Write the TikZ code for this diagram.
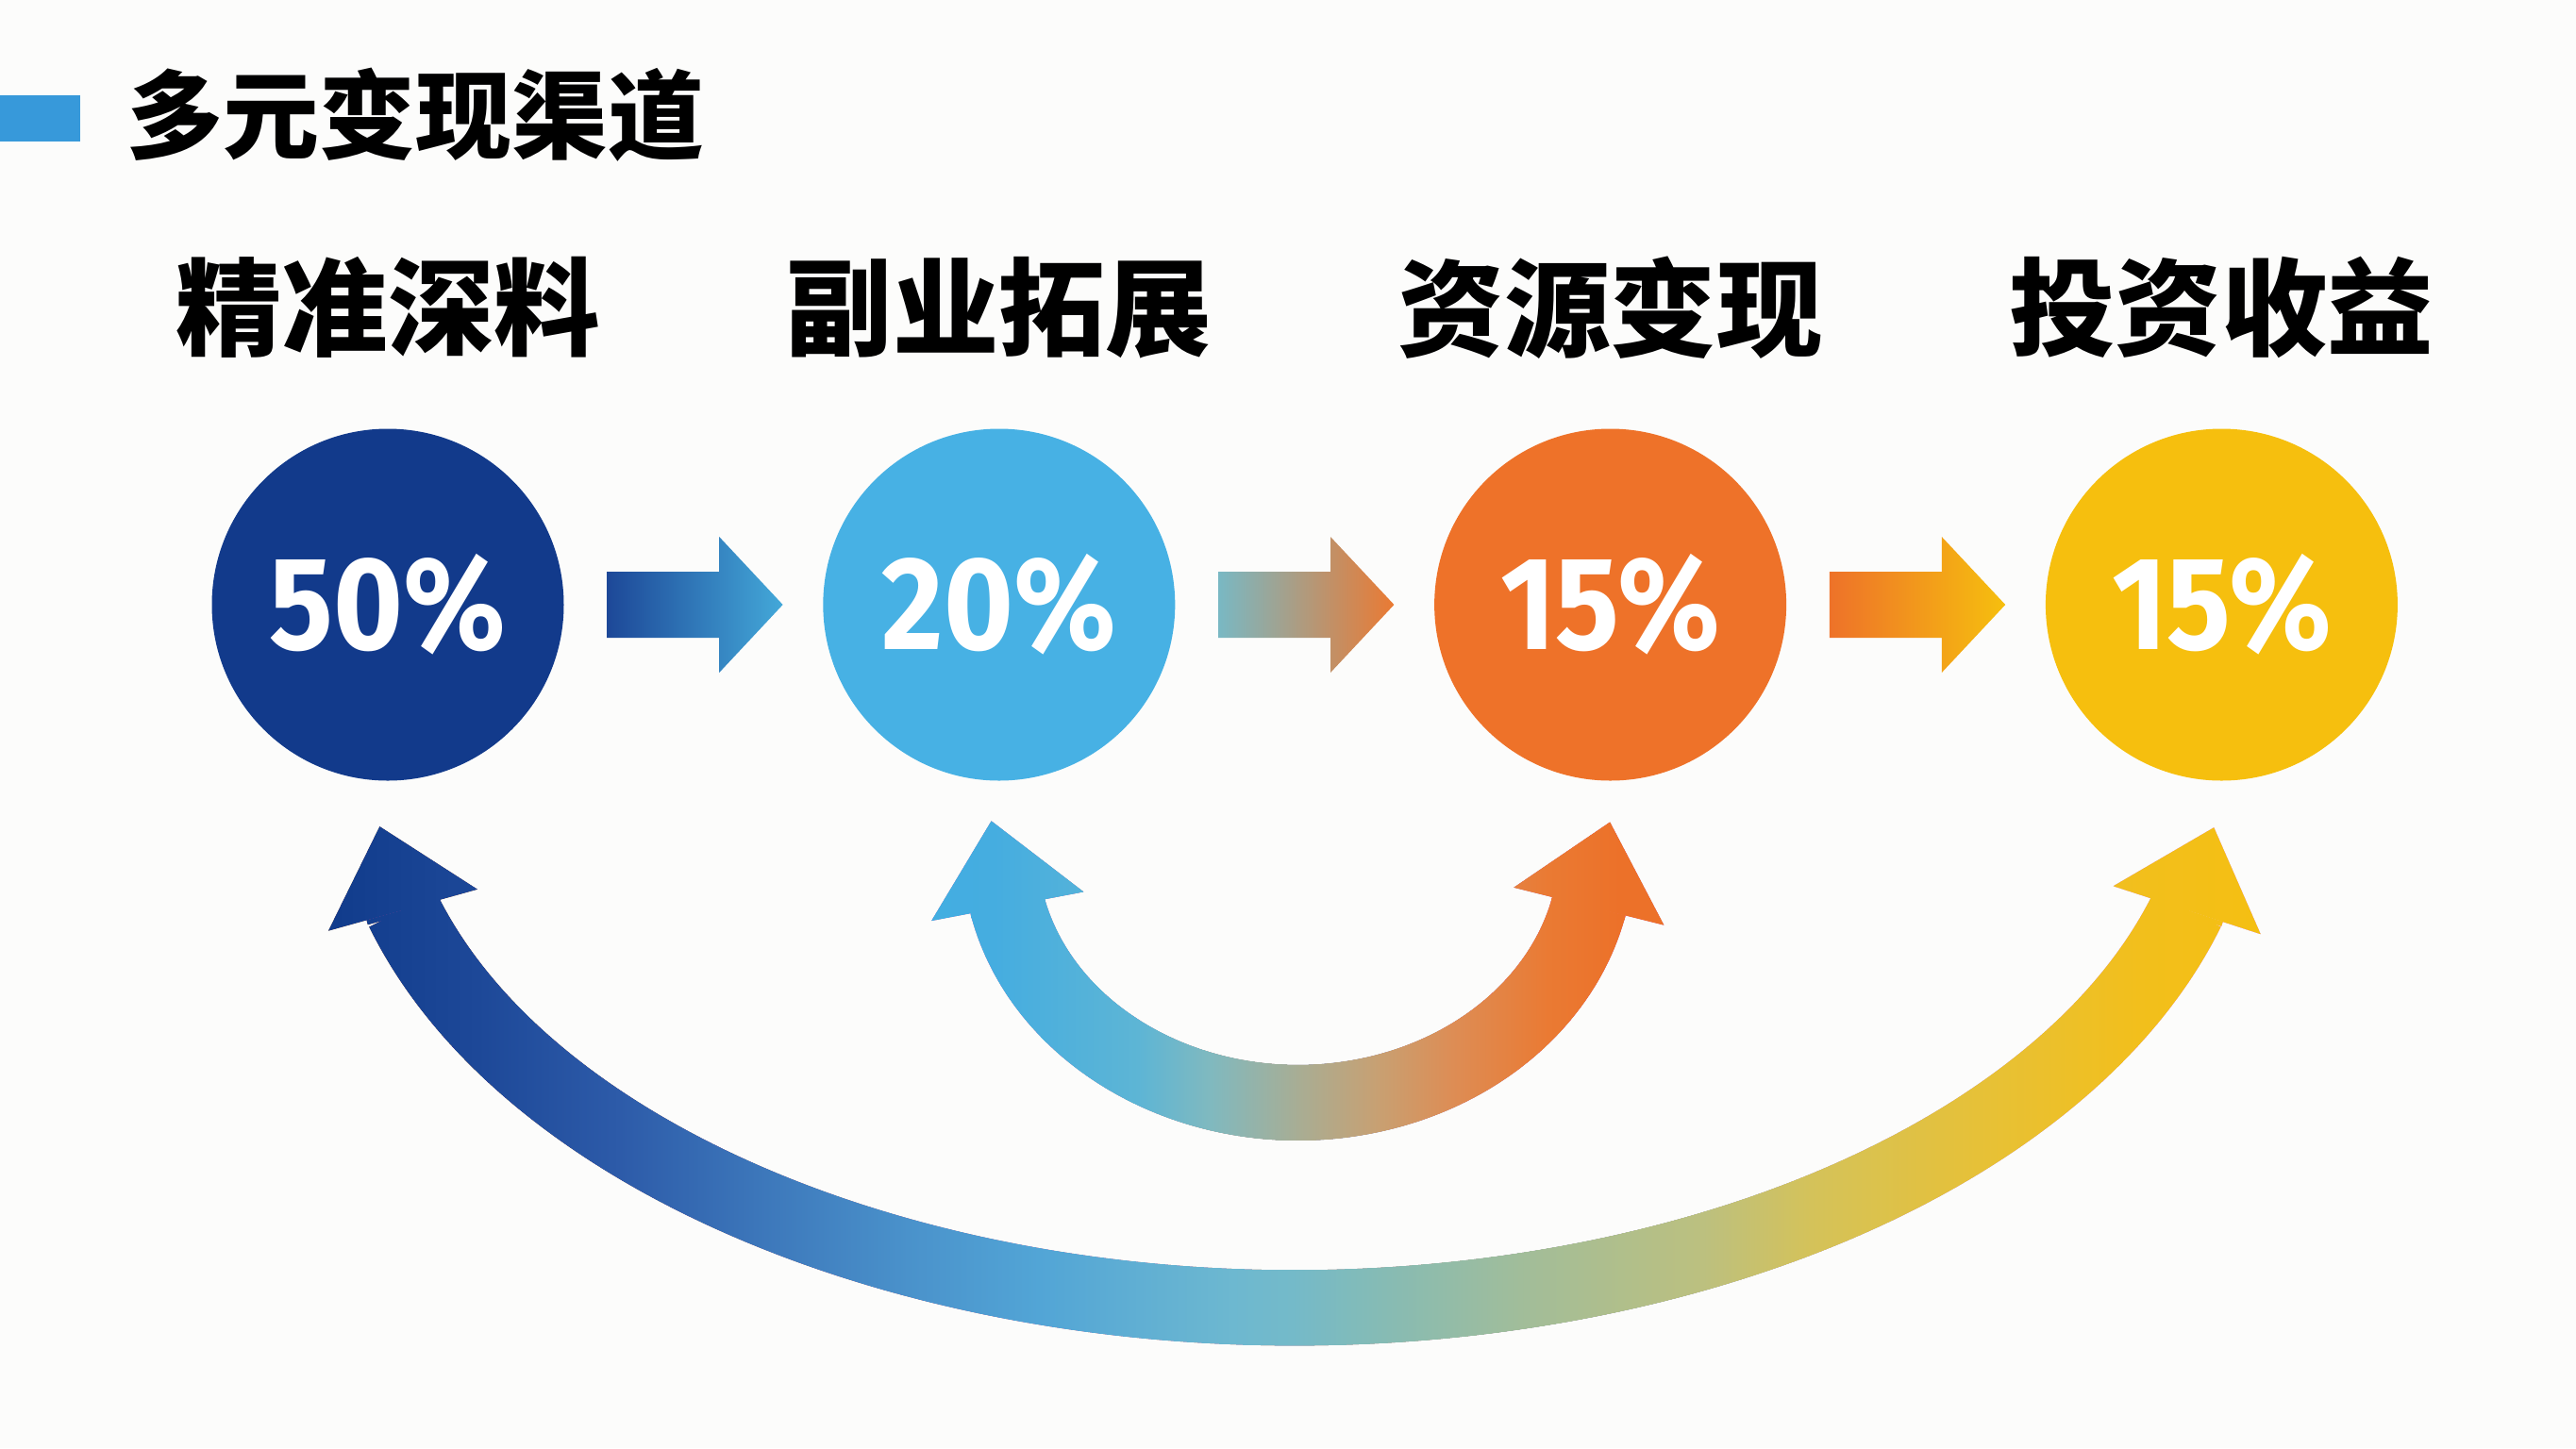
\documentclass[tikz,border=0pt]{standalone}
\usepackage{fontspec}
\setmainfont{Noto Sans}
\newfontfamily\cjk{Noto Sans CJK SC}
\newfontfamily\pctfont{Fira Sans}[FakeStretch=0.9]
\usetikzlibrary{arrows.meta,positioning,calc}
\definecolor{paper}{HTML}{FCFCFB}
\definecolor{bar}{HTML}{3799DA}
\definecolor{navy}{HTML}{123A8B}
\definecolor{sky}{HTML}{47B1E4}
\definecolor{tang}{HTML}{EE7229}
\definecolor{gold}{HTML}{F6BF0E}
% outer loop colours, left to right
\definecolor{lp0}{HTML}{0F3A8A}
\definecolor{lp1}{HTML}{1D4898}
\definecolor{lp2}{HTML}{2D5BA9}
\definecolor{lp3}{HTML}{3D78BB}
\definecolor{lp4}{HTML}{4A92CB}
\definecolor{lp5}{HTML}{52A5D6}
\definecolor{lp6}{HTML}{6DB8D0}
\definecolor{lp7}{HTML}{74BAC9}
\definecolor{lp8}{HTML}{85BBB5}
\definecolor{lp9}{HTML}{A2BD99}
\definecolor{lp10}{HTML}{BCC07F}
\definecolor{lp11}{HTML}{D4C25A}
\definecolor{lp12}{HTML}{E6C138}
\definecolor{lp13}{HTML}{F2BF1C}
\definecolor{lp14}{HTML}{F5BF10}
% inner loop colours
\definecolor{sp0}{HTML}{42AEE2}
\definecolor{sp1}{HTML}{45ADE0}
\definecolor{sp2}{HTML}{5DB5D5}
\definecolor{sp3}{HTML}{80B9BF}
\definecolor{sp4}{HTML}{A9AD93}
\definecolor{sp5}{HTML}{C8A072}
\definecolor{sp6}{HTML}{DD8D55}
\definecolor{sp7}{HTML}{EA7A33}
\definecolor{sp8}{HTML}{EC7129}
\pgfdeclarehorizontalshading{bigloop}{100bp}{color(0bp)=(lp0); color(25bp)=(lp0); color(29.2bp)=(lp1); color(32.8bp)=(lp2); color(36.5bp)=(lp3); color(40.1bp)=(lp4); color(43.4bp)=(lp5); color(48.3bp)=(lp6); color(49.8bp)=(lp7); color(52bp)=(lp8); color(55.7bp)=(lp9); color(60.2bp)=(lp10); color(62.9bp)=(lp11); color(67.1bp)=(lp12); color(71.2bp)=(lp13); color(75bp)=(lp14); color(100bp)=(lp14)}
\pgfdeclarehorizontalshading{smallloop}{100bp}{color(0bp)=(sp0); color(25bp)=(sp0); color(30.5bp)=(sp1); color(39.7bp)=(sp2); color(44.3bp)=(sp3); color(50bp)=(sp4); color(55bp)=(sp5); color(59.7bp)=(sp6); color(65.8bp)=(sp7); color(70.4bp)=(sp8); color(100bp)=(sp8)}
\tikzset{
  headline/.style={font=\cjk\bfseries\fontsize{29}{29}\selectfont,inner sep=0pt},
  lbl/.style={font=\cjk\bfseries\fontsize{32}{32}\selectfont,inner sep=0pt},
  pct/.style={circle,minimum size=37.3mm,inner sep=0pt,text=white,font=\pctfont\bfseries\fontsize{40}{40}\selectfont},
  fwd1/.style={left color=lp1,right color=sky!95!black},
  fwd2/.style={left color=sp3!80!sp2,middle color=sp4!60!sp5,right color=sp7},
  fwd3/.style={left color=tang,middle color=tang!50!gold,right color=gold},
  arcband/.style={draw=black,line width=8mm},
  headtip/.style={draw=black,line width=8mm,shorten >=-9.2mm,
    -{Triangle[width=16.4mm 0 0,length=9.2mm 0 0,line width=0pt]}}
}
\begin{document}
\begin{tikzpicture}[node distance=27.34mm]
  \path[use as bounding box,fill=paper] (0,0) rectangle (27.30,-15.35);
  \fill[bar] (0,-1.01) rectangle (0.85,-1.50);
  \node[headline,anchor=west] (ttl) at (1.34,-1.22) {多元变现渠道};
  \node[pct,fill=navy] (c1) at (4.11,-6.41) {50\%};
  \node[pct,fill=sky,right=of c1] (c2) {20\%};
  \node[pct,fill=tang,right=of c2] (c3) {15\%};
  \node[pct,fill=gold,right=of c3] (c4) {15\%};
  \foreach \c/\t in {c1/精准深料,c2/副业拓展,c3/资源变现,c4/投资收益}
    \node[lbl] (l\c) at ([yshift=12.8mm]\c.north) {\t};
  \foreach \a/\b/\s in {c1/c2/fwd1,c2/c3/fwd2,c3/c4/fwd3}
    \shade[\s] ([xshift=4.5mm,yshift=3.5mm]\a.east) -- ++(11.9mm,0) -- ++(0,3.7mm)
      -- ([xshift=-4.2mm]\b.west) -- ([xshift=16.4mm,yshift=-7.2mm]\a.east)
      -- ++(0,3.7mm) -- ++(-11.9mm,0) -- cycle;
  \coordinate (bA) at ([xshift=1.6mm,yshift=-13.65mm]c1.south);
  \coordinate (bB) at ([xshift=0.9mm,yshift=-13.25mm]c2.south);
  % outer loop first, inner loop on top
  \draw[arcband] (bA) arc[start angle=196.3,end angle=343.7,x radius=9.85,y radius=5.86] coordinate (eA);
  \foreach \p/\d in {bA/{-0.268,0.963},eA/{0.31,0.95}}
    \draw[headtip] ($(\p)-0.05*(\d)$) -- (\p);
  \shade[shading=bigloop,blend mode=lighten] ($(c1.south)+(-0.81,-0.285)$) rectangle ($(c4.south)+(0.71,-6.185)$);
  \draw[arcband] (bB) arc[start angle=192.9,end angle=347.1,x radius=3.16,y radius=2.68] coordinate (eB);
  \foreach \p/\d in {bB/{-0.187,0.982},eB/{0.243,0.970}}
    \draw[headtip] ($(\p)-0.05*(\d)$) -- (\p);
  \shade[shading=smallloop,blend mode=lighten] ($(c2.south)+(-0.97,-0.285)$) rectangle ($(c3.south)+(0.87,-4.025)$);
\end{tikzpicture}
\end{document}
